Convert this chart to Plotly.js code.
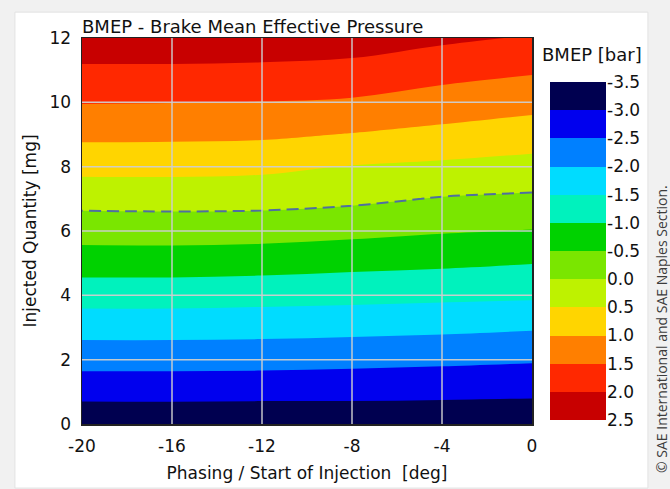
<!DOCTYPE html>
<html>
<head>
<meta charset="utf-8">
<script src="https://cdn.plot.ly/plotly-3.0.1.min.js"></script>
<style>
  html, body { margin: 0; padding: 0; background: #f1f1f1; }
  #chart { width: 670px; height: 489px; }
</style>
</head>
<body>
<div id="chart"></div>
<script>
// Start of injection (deg) and injected fuel quantity (mg)
const phasingDeg = [-20, -16, -12, -8, -4, 0];
const quantityMg = [0, 1, 2, 3, 4, 5, 6, 7, 8, 9, 10, 11, 12];

// BMEP in bar, one row per injected quantity, one column per phasing value
const bmepBar = [
  [-3.37, -3.36, -3.37, -3.35, -3.36, -3.35],
  [-2.84, -2.84, -2.85, -2.86, -2.88, -2.91],
  [-2.31, -2.31, -2.32, -2.36, -2.40, -2.45],
  [-1.80, -1.80, -1.82, -1.85, -1.89, -1.95],
  [-1.29, -1.29, -1.32, -1.35, -1.39, -1.42],
  [-0.77, -0.77, -0.80, -0.87, -0.92, -0.99],
  [-0.29, -0.28, -0.30, -0.37, -0.46, -0.52],
  [ 0.17,  0.18,  0.17,  0.10, -0.03, -0.08],
  [ 0.65,  0.65,  0.61,  0.48,  0.41,  0.33],
  [ 1.11,  1.10,  1.08,  0.98,  0.87,  0.75],
  [ 1.52,  1.51,  1.49,  1.44,  1.28,  1.16],
  [ 1.92,  1.92,  1.90,  1.85,  1.69,  1.56],
  [ 2.33,  2.33,  2.31,  2.25,  2.09,  1.96]
];

// Contour levels (bar) and their labels on the colour key
const bmepLevels = [-3.5, -3.0, -2.5, -2.0, -1.5, -1.0, -0.5, 0.0, 0.5, 1.0, 1.5, 2.0, 2.5];
const levelLabels = ['-3.5', '-3.0', '-2.5', '-2.0', '-1.5', '-1.0', '-0.5', '0.0', '0.5', '1.0', '1.5', '2.0', '2.5'];
// One colour per band between consecutive levels
const bandColors = ['#000050', '#0000ee', '#0080ff', '#00dcff', '#00f2bd', '#00d200',
                    '#7ae600', '#bef200', '#ffd500', '#ff7f00', '#ff2800', '#c80000'];

const xTickVals = [-20, -16, -12, -8, -4, 0];
const xTickLabels = ['-20', '-16', '-12', '-8', '-4', '0'];
const yTickVals = [0, 2, 4, 6, 8, 10, 12];
const yTickLabels = ['0', '2', '4', '6', '8', '10', '12'];

// Stepped colour scale: each colour held flat over its own slice
function stepScale(colors) {
  const n = colors.length, out = [];
  colors.forEach((c, i) => { out.push([i / n, c]); out.push([(i + 1) / n, c]); });
  return out;
}

const step = bmepLevels[1] - bmepLevels[0];
const lo = bmepLevels[0], hi = bmepLevels[bmepLevels.length - 1];

// Filled contour bands
const bands = {
  type: 'contour',
  x: phasingDeg, y: quantityMg, z: bmepBar,
  autocontour: false,
  contours: { start: lo, end: hi, size: step, coloring: 'fill', showlines: false },
  // the fill scale also covers the half band below the first level
  colorscale: stepScale([bandColors[0]].concat(bandColors)),
  line: { width: 0 },
  showscale: false,
  hoverinfo: 'skip'
};

// Zero-BMEP isoline
const zeroLine = {
  type: 'contour',
  x: phasingDeg, y: quantityMg, z: bmepBar,
  autocontour: false,
  contours: { start: 0, end: 0, size: 1, coloring: 'none' },
  line: { color: '#4f6fa0', width: 2, dash: '12px,6px' },
  showscale: false,
  hoverinfo: 'skip'
};

// Colour key drawn as a stack of cells, one per band
const keyMid = bandColors.map((c, i) => [(bmepLevels[i] + bmepLevels[i + 1]) / 2]);
const key = {
  type: 'heatmap',
  x: [0], y: bmepLevels, z: keyMid,
  xaxis: 'x2', yaxis: 'y2',
  zmin: lo, zmax: hi,
  colorscale: stepScale(bandColors),
  showscale: false,
  hoverinfo: 'skip'
};

// Light grid drawn over the filled bands
const grid = [];
xTickVals.slice(1, -1).forEach(v => grid.push({
  type: 'line', xref: 'x', yref: 'y', x0: v, x1: v,
  y0: yTickVals[0], y1: yTickVals[yTickVals.length - 1],
  line: { color: 'rgba(205,205,205,0.95)', width: 1.5 }, layer: 'above'
}));
yTickVals.slice(1, -1).forEach(v => grid.push({
  type: 'line', xref: 'x', yref: 'y', y0: v, y1: v,
  x0: xTickVals[0], x1: xTickVals[xTickVals.length - 1],
  line: { color: 'rgba(205,205,205,0.95)', width: 1.5 }, layer: 'above'
}));

// White card behind the figure
const card = {
  type: 'rect', xref: 'paper', yref: 'paper',
  x0: -0.128, x1: 1.080, y0: -0.166, y1: 1.067,
  fillcolor: '#ffffff', line: { color: '#e2e2e2', width: 1 }, layer: 'below'
};

const axisFont = { family: 'DejaVu Sans', size: 17, color: '#111' };

const layout = {
  width: 670, height: 489,
  margin: { l: 82, r: 64, t: 38, b: 65 },
  paper_bgcolor: '#f1f1f1',
  plot_bgcolor: '#ffffff',
  font: axisFont,
  showlegend: false,
  title: {
    text: 'BMEP - Brake Mean Effective Pressure',
    font: { family: 'DejaVu Sans', size: 18, color: '#111' },
    xref: 'container', yref: 'container',
    x: 82 / 670, xanchor: 'left', y: 1 - 27 / 489, yanchor: 'middle'
  },
  xaxis: {
    domain: [0, 450 / 524],
    range: [xTickVals[0], xTickVals[xTickVals.length - 1]],
    tickmode: 'array', tickvals: xTickVals, ticktext: xTickLabels,
    showgrid: false, zeroline: false, ticks: '',
    showline: true, mirror: true, linecolor: '#222', linewidth: 1.5,
    ticklabelstandoff: 6,
    tickfont: axisFont,
    title: { text: 'Phasing / Start of Injection\u00a0 [deg]', font: axisFont, standoff: 12 }
  },
  yaxis: {
    range: [yTickVals[0], yTickVals[yTickVals.length - 1]],
    tickmode: 'array', tickvals: yTickVals, ticktext: yTickLabels,
    showgrid: false, zeroline: false, ticks: '',
    showline: true, mirror: true, linecolor: '#222', linewidth: 1.5,
    ticklabelstandoff: 6,
    tickfont: axisFont,
    title: { text: 'Injected Quantity [mg]', font: axisFont, standoff: 8 }
  },
  xaxis2: {
    domain: [468 / 524, 1], anchor: 'y2', range: [-0.5, 0.5],
    visible: false, fixedrange: true
  },
  yaxis2: {
    domain: [4 / 386, 342 / 386], anchor: 'x2', side: 'right',
    range: [hi, lo],
    tickmode: 'array', tickvals: bmepLevels, ticktext: levelLabels,
    showgrid: false, zeroline: false, ticks: '', showline: false,
    ticklabelstandoff: 0,
    tickfont: axisFont
  },
  shapes: [card].concat(grid),
  annotations: [
    {
      text: 'BMEP [bar]', xref: 'paper', yref: 'paper',
      x: (592 - 82) / 524, y: (424 - 54) / 386, xanchor: 'center', yanchor: 'middle',
      showarrow: false, font: { family: 'DejaVu Sans', size: 18, color: '#111' }
    },
    {
      text: '\u00a9 SAE International and SAE Naples Section.',
      xref: 'paper', yref: 'paper', textangle: -90,
      x: (661 - 82) / 524, y: (424 - 329) / 386, xanchor: 'center', yanchor: 'middle',
      showarrow: false, font: { family: 'Open Sans', size: 14, color: '#3c3c3c' }
    }
  ]
};

Plotly.newPlot('chart', [bands, zeroLine, key], layout, { staticPlot: true, displayModeBar: false });
</script>
</body>
</html>
